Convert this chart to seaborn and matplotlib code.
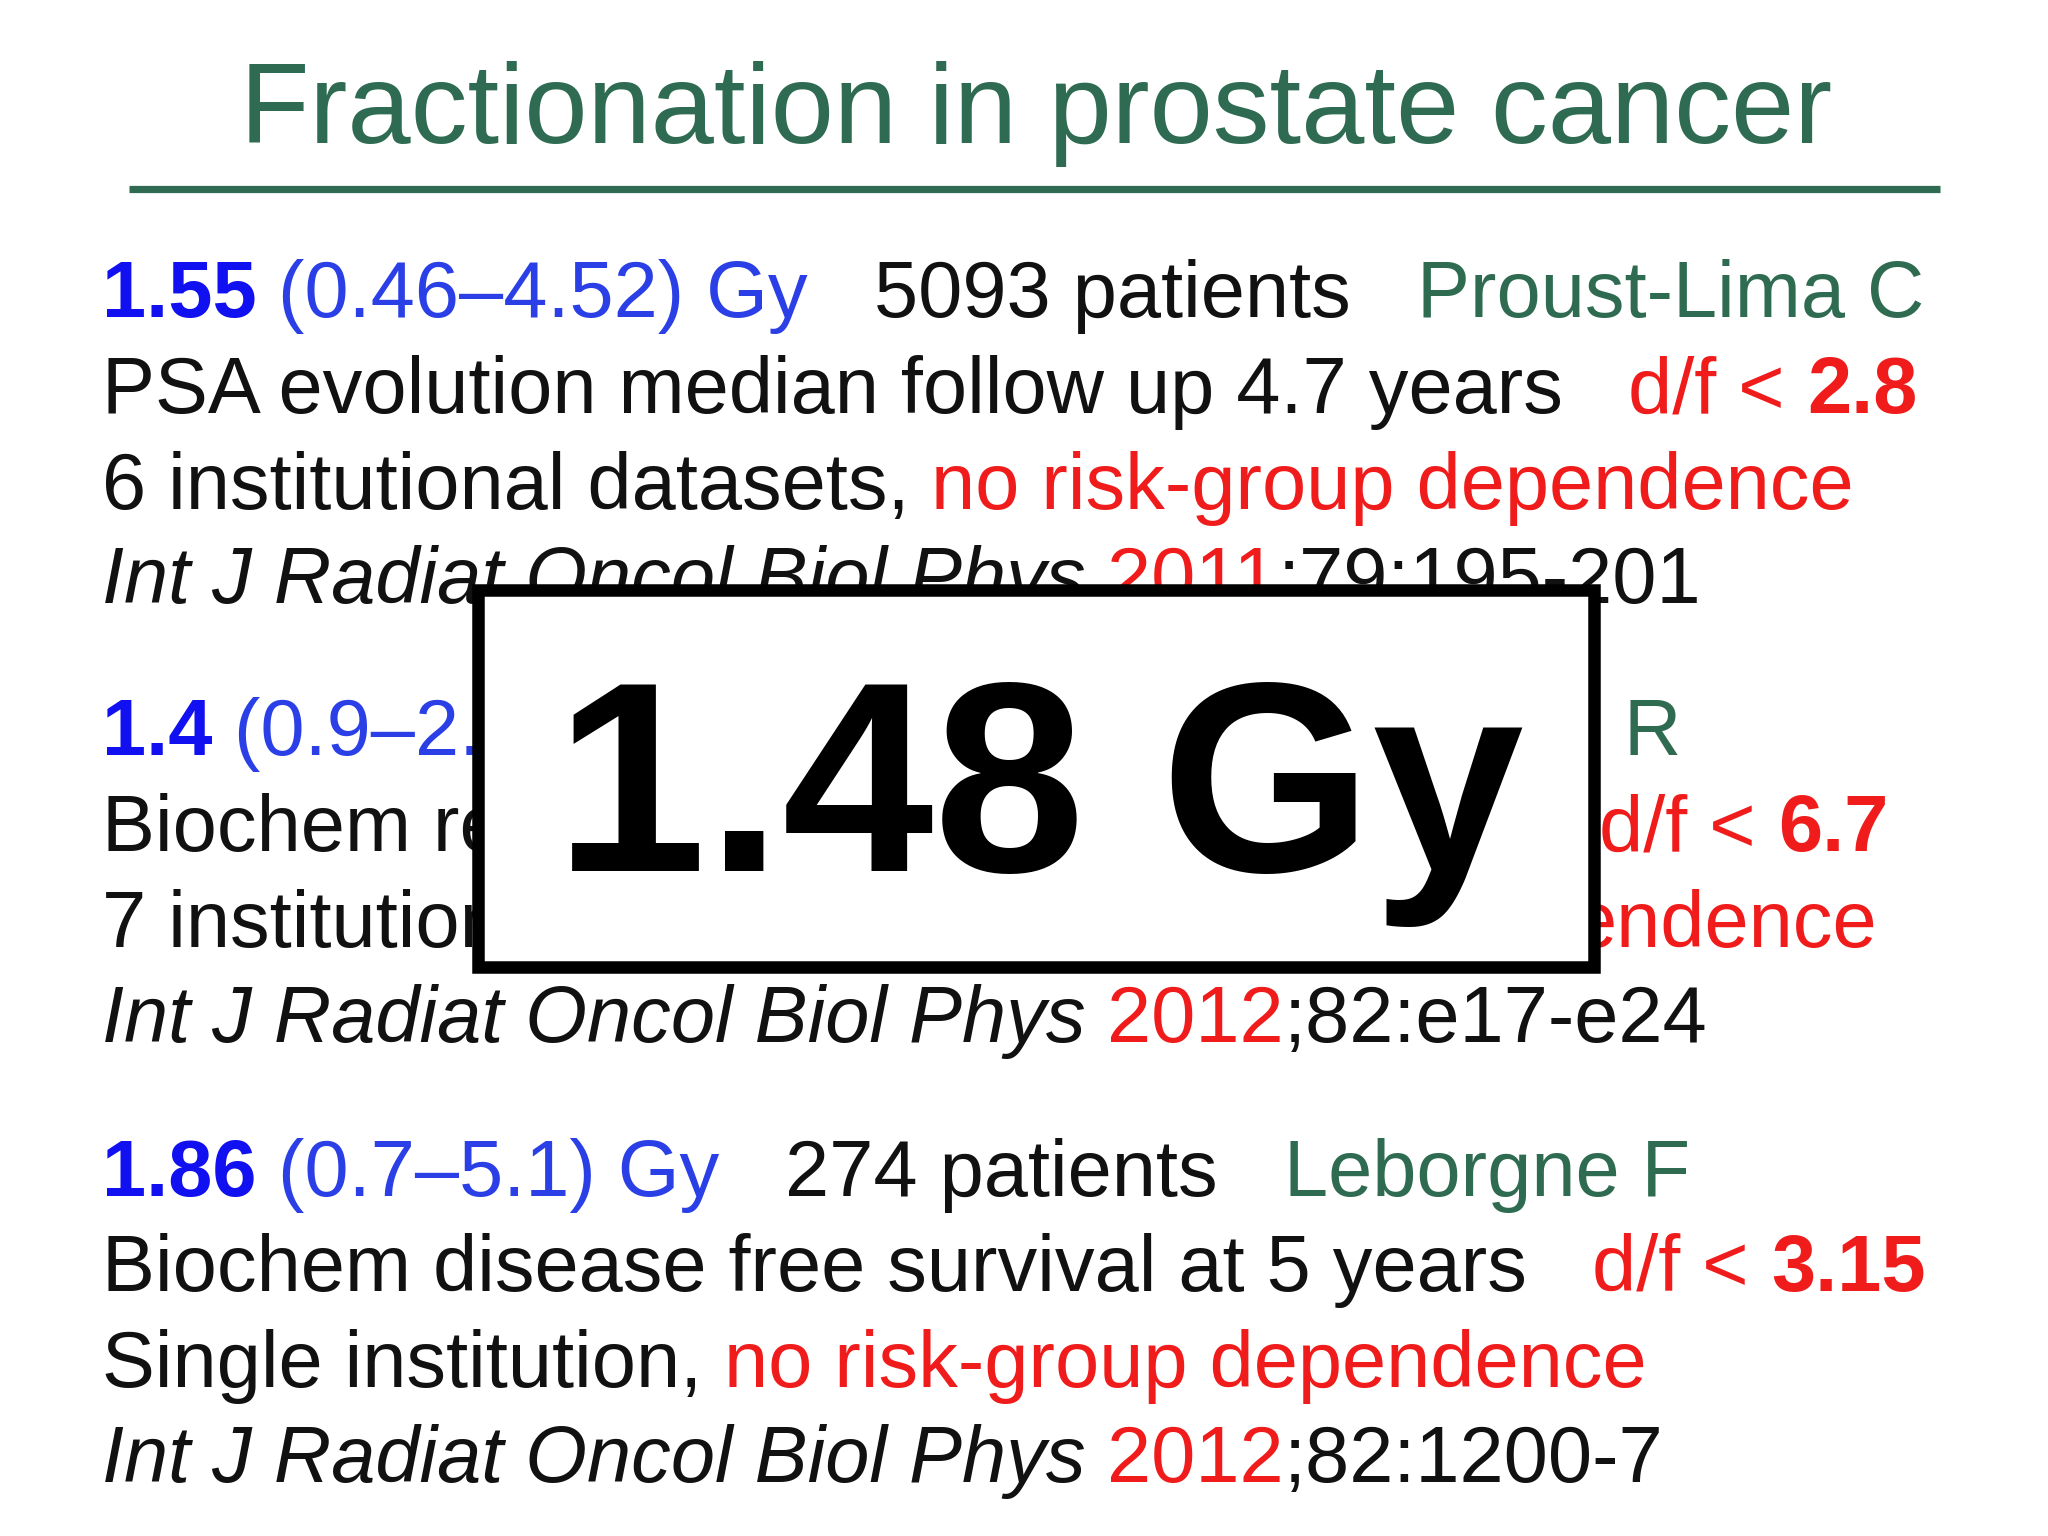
import matplotlib
matplotlib.use("Agg")
import matplotlib.pyplot as plt
import seaborn as sns
from matplotlib.patches import Rectangle

sns.set_theme(style="white")
plt.rcParams['font.family'] = ['Liberation Sans', 'DejaVu Sans']

BLUE_B = "#1010F0"; BLUE = "#2B3FE6"; GREEN = "#2E6B50"; RED = "#F01C1C"; BLACK = "#111111"

title = "Fractionation in prostate cancer"
# each line: (x, baseline y, [(text, color, weight, style)])
group1 = [
    (77, 240, [("1.55", BLUE_B, "bold", "normal"), (" (0.46–4.52) Gy", BLUE, "normal", "normal"),
               ("   5093 patients   ", BLACK, "normal", "normal"), ("Proust-Lima C", GREEN, "normal", "normal")]),
    (77, 313, [("PSA evolution median follow up 4.7 years   ", BLACK, "normal", "normal"),
               ("d/f < ", RED, "normal", "normal"), ("2.8", RED, "bold", "normal")]),
    (77, 386, [("6 institutional datasets, ", BLACK, "normal", "normal"),
               ("no risk-group dependence", RED, "normal", "normal")]),
    (77, 457, [("Int J Radiat Oncol Biol Phys ", BLACK, "normal", "italic"), ("2011", RED, "normal", "normal"),
               (";79:195-201", BLACK, "normal", "normal")]),
]
group2 = [
    (77, 572, [("1.4", BLUE_B, "bold", "normal"), (" (0.9–2.", BLUE, "normal", "normal")]),
    (1230, 572, [("R", GREEN, "normal", "normal")]),
    (77, 645, [("Biochem re", BLACK, "normal", "normal")]),
    (1212, 645, [("d/f < ", RED, "normal", "normal"), ("6.7", RED, "bold", "normal")]),
    (77, 718, [("7 institution", BLACK, "normal", "normal")]),
    (1192, 718, [("endence", RED, "normal", "normal")]),
    (77, 790, [("Int J Radiat Oncol Biol Phys ", BLACK, "normal", "italic"), ("2012", RED, "normal", "normal"),
               (";82:e17-e24", BLACK, "normal", "normal")]),
]
group3 = [
    (77, 906, [("1.86", BLUE_B, "bold", "normal"), (" (0.7–5.1) Gy", BLUE, "normal", "normal"),
               ("   274 patients   ", BLACK, "normal", "normal"), ("Leborgne F", GREEN, "normal", "normal")]),
    (77, 978, [("Biochem disease free survival at 5 years   ", BLACK, "normal", "normal"),
               ("d/f < ", RED, "normal", "normal"), ("3.15", RED, "bold", "normal")]),
    (77, 1051, [("Single institution, ", BLACK, "normal", "normal"),
                ("no risk-group dependence", RED, "normal", "normal")]),
    (77, 1123, [("Int J Radiat Oncol Biol Phys ", BLACK, "normal", "italic"), ("2012", RED, "normal", "normal"),
                (";82:1200-7", BLACK, "normal", "normal")]),
]
big_label = "1.48 Gy"

W, H = 1552, 1164
fig = plt.figure(figsize=(10.24, 7.68), dpi=200)
ax = fig.add_axes([0, 0, 1, 1])
ax.set_xlim(0, W); ax.set_ylim(H, 0); ax.axis("off")
fig.canvas.draw()
r = fig.canvas.get_renderer()
scale = W / fig.bbox.width
FS = 28.6

def draw_line(x, y, segs):
    for txt, col, wt, st in segs:
        t = ax.text(x, y, txt, color=col, fontweight=wt, fontstyle=st, fontsize=FS,
                    va="baseline", ha="left", zorder=2)
        x += t.get_window_extent(r).width * scale

ax.text(785, 108, title, color="#2E6B52", fontsize=40.9, ha="center", va="baseline")
ax.plot([98, 1470], [143, 143], color="#2E6B52", lw=2.6, solid_capstyle="butt")

for g in (group1, group2, group3):
    for x, y, segs in g:
        draw_line(x, y, segs)

ax.add_patch(Rectangle((362, 447), 846, 286, facecolor="white", edgecolor="black", lw=4.5, zorder=5))
ax.text(788, 660, big_label, fontsize=98, fontweight="bold", color="black",
        ha="center", va="baseline", zorder=6)

fig.savefig("out.png", dpi=200, facecolor="white")
